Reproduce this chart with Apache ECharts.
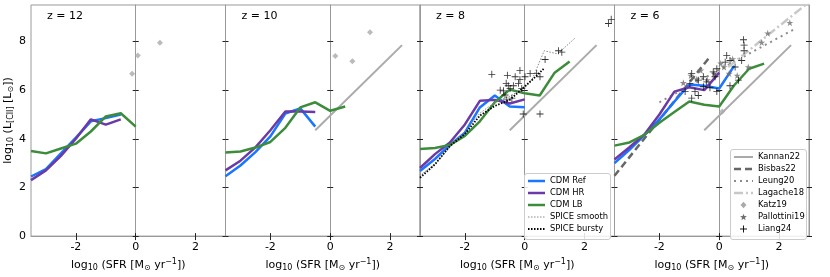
<!DOCTYPE html>
<html><head><meta charset="utf-8">
<script src="https://cdn.jsdelivr.net/npm/echarts@6/dist/echarts.min.js"></script>
<style>html,body{margin:0;padding:0;background:#fff}#c{width:830px;height:277px}</style>
</head><body><div id="c"></div>
<script>
// ---------- data ----------
const panelTitles = ['z = 12', 'z = 10', 'z = 8', 'z = 6'];
const xTicks = [-2, 0, 2];
const yTicks = [0, 2, 4, 6, 8];
const sfrBins = [-3.5, -3, -2.5, -2, -1.5, -1, -0.5, 0, 0.5, 1, 1.5];

const cdmRef = [
  [2.45, 2.75, 3.4, 4.05, 4.72, 4.85, 5.0],
  [2.46, 2.9, 3.45, 4.1, 5.04, 5.25, 4.5],
  [2.68, 3.17, 3.75, 4.25, 5.29, 5.78, 5.33, 5.3],
  [3.0, 3.55, 4.15, 4.8, 5.53, 6.23, 6.18, 6.07, 7.0]
];
const cdmHR = [
  [2.3, 2.7, 3.3, 4.0, 4.8, 4.58, 4.8],
  [2.7, 3.1, 3.65, 4.35, 5.12, 5.12, 5.1],
  [2.8, 3.37, 3.85, 4.59, 5.56, 5.6, 5.45, 5.62],
  [3.15, 3.65, 4.18, 5.0, 5.94, 6.12, 6.0, 6.72]
];
const cdmLB = [
  [3.5, 3.4, 3.6, 3.8, 4.3, 4.92, 5.05, 4.5],
  [3.44, 3.48, 3.64, 3.87, 4.45, 5.29, 5.5, 5.15, 5.33],
  [3.58, 3.62, 3.75, 4.12, 4.72, 5.5, 6.02, 5.87, 5.78, 6.72, 7.18],
  [3.72, 3.85, 4.16, 4.66, 5.1, 5.53, 5.4, 5.33, 6.2, 6.88, 7.09]
];
// SPICE (z = 8 only)
const spiceSmoothX = [-3.5, -3, -2.5, -2, -1.5, -1, -0.5, 0, 0.25, 0.65, 1.1, 1.7];
const spiceSmoothY = [2.5, 2.95, 3.65, 4.3, 5.05, 5.5, 5.75, 6.1, 6.45, 7.62, 7.49, 8.16];
const spiceBurstyX = [-3.5, -3, -2.5, -2, -1.5, -1, -0.5, 0, 0.3, 0.65];
const spiceBurstyY = [2.4, 2.95, 3.7, 4.2, 4.95, 5.35, 5.6, 6.15, 6.48, 6.9];
// literature relations
const kannanX = [-0.5, 2.4], kannanY = [4.35, 7.85];          // z = 10, 8, 6
const bisbasX = [-3.5, -0.35], bisbasY = [2.48, 7.31];        // z = 6
const leungX = [-2.0, 2.5], leungY = [5.5, 8.5];              // z = 6
const lagacheX = [0.3, 3.0], lagacheY = [6.95, 9.62];         // z = 6
// Katz19 points per panel
const katz = [
  [[-0.12, 6.67], [0.07, 7.42], [0.81, 7.95]],
  [[0.17, 7.4], [0.74, 7.19], [1.33, 8.38]],
  [],
  [[0.1, 5.12]]
];
// Liang24 points (z = 8, z = 6)
const liangZ8 = [[2.80, 8.74], [2.89, 8.91], [-1.10, 6.65], [-0.58, 6.61], [-0.16, 6.81], [-0.32, 6.55],
  [-0.16, 6.44], [0.01, 6.55], [0.18, 6.68], [0.40, 6.68], [0.51, 6.55], [-0.62, 6.28], [-0.55, 6.18],
  [-0.49, 6.07], [-0.71, 5.97], [-0.66, 5.8], [-0.38, 6.18], [-0.43, 5.67], [-0.6, 5.6], [-0.21, 6.28],
  [0.68, 7.26], [1.13, 7.62], [1.24, 7.56], [-0.05, 5.02], [0.51, 5.02], [-0.82, 6.0], [-0.1, 6.07]];
const liangZ6 = [[0.81, 8.07], [0.83, 7.85], [0.83, 7.62], [0.25, 7.42], [0.36, 7.22], [0.2, 7.15],
  [0.75, 7.22], [0.53, 6.95], [-0.08, 6.88], [-0.2, 6.75], [-0.14, 6.55], [-0.53, 6.55], [-0.42, 6.34],
  [-0.7, 6.41], [-0.92, 6.68], [-0.98, 6.28], [-1.14, 5.94], [-0.81, 5.94], [-0.92, 5.67], [-0.7, 5.78],
  [-0.08, 5.94], [0.36, 6.18], [0.64, 6.41], [-0.53, 6.14], [-0.31, 6.1]];
// Pallottini19 (z = 6)
const pallottiniZ6 = [[-0.95, 6.6], [-0.62, 6.81], [-0.17, 6.68], [0.16, 6.95], [0.33, 6.68], [-0.4, 6.41],
  [0.97, 6.95], [1.42, 7.96], [1.62, 8.34], [2.36, 8.77], [-0.75, 6.45], [0.05, 7.1], [0.45, 7.28],
  [-1.2, 6.3], [0.6, 6.6]];
const legend1Labels = ['CDM Ref', 'CDM HR', 'CDM LB', 'SPICE smooth', 'SPICE bursty'];
const legend2Labels = ['Kannan22', 'Bisbas22', 'Leung20', 'Lagache18', 'Katz19', 'Pallottini19', 'Liang24'];

// ---------- styling ----------
const FONT = 'DejaVu Sans';
const C_REF = '#1a75ff', C_HR = '#6b3aa6', C_LB = '#3c8c3c';
const PLUS = 'path://M-0.12,-1L0.12,-1L0.12,-0.12L1,-0.12L1,0.12L0.12,0.12L0.12,1L-0.12,1L-0.12,0.12L-1,0.12L-1,-0.12L-0.12,-0.12Z';
const STAR = 'path://M0,-1L0.2245,-0.309L0.951,-0.309L0.363,0.118L0.588,0.809L0,0.382L-0.588,0.809L-0.363,0.118L-0.951,-0.309L-0.2245,-0.309Z';
const STYLE = {
  'CDM Ref': {kind: 'line', color: C_REF, width: 2.5, dash: null},
  'CDM HR': {kind: 'line', color: C_HR, width: 2.5, dash: null},
  'CDM LB': {kind: 'line', color: C_LB, width: 2.5, dash: null},
  'SPICE smooth': {kind: 'line', color: '#888888', width: 1, dash: [1.5, 1.5]},
  'SPICE bursty': {kind: 'line', color: '#000000', width: 1.8, dash: [1.5, 1.5]},
  'Kannan22': {kind: 'line', color: '#aaaaaa', width: 2, dash: null},
  'Bisbas22': {kind: 'line', color: '#666666', width: 2.5, dash: [7, 4]},
  'Leung20': {kind: 'line', color: '#8c8c8c', width: 2, dash: [2, 4]},
  'Lagache18': {kind: 'line', color: '#c8c8c8', width: 2.5, dash: [9, 3, 2, 3]},
  'Katz19': {kind: 'diamond', color: '#aaaaaa'},
  'Pallottini19': {kind: 'star', color: '#6f6f6f'},
  'Liang24': {kind: 'plus', color: '#000000'}
};

const GL = 31, GW = 194.5, GT = 5, GH = 235;
const zip = (xs, ys) => ys.map((y, i) => [xs[i], y]);

const grids = [], xAxes = [], yAxes = [], series = [], graphics = [];
const xName = '{a|log}{s|10}{a| (SFR [M}{s|⊙}{a| yr}{p|−1}{a|])}';
const yName = '{a|log}{s|10}{a| (L}{s|[CII]}{a| [L}{s|⊙}{a|])}';
const richTxt = {
  a: {fontSize: 11, fontFamily: FONT, color: '#000'},
  s: {fontSize: 8, fontFamily: FONT, color: '#000', padding: [6, 0, 0, 0]},
  p: {fontSize: 8, fontFamily: FONT, color: '#000', padding: [0, 0, 6, 0]}
};

for (let g = 0; g < 4; g++) {
  grids.push({left: GL + g * GW, top: GT, width: GW, height: GH, show: true,
    borderColor: '#999', borderWidth: 1, backgroundColor: 'transparent'});
  const xb = {type: 'value', gridIndex: g, min: -3.5, max: 3, position: 'bottom', splitLine: {show: false}};
  xAxes.push(Object.assign({}, xb, {
    axisLine: {show: true, lineStyle: {color: '#999'}},
    axisTick: {show: true, length: 4, customValues: xTicks, lineStyle: {color: '#222'}},
    axisLabel: {show: true, customValues: xTicks, fontSize: 11, fontFamily: FONT, color: '#000', margin: 6},
    name: xName, nameLocation: 'middle', nameGap: 18, nameTextStyle: {rich: richTxt}
  }));
  xAxes.push(Object.assign({}, xb, {
    axisLine: {show: false},
    axisTick: {show: true, inside: true, length: 3, customValues: xTicks, lineStyle: {color: '#222'}},
    axisLabel: {show: false}
  }));
  const yb = {type: 'value', gridIndex: g, min: 0, max: 9.5, splitLine: {show: false}};
  for (const pos of ['left', 'right']) {
    yAxes.push(Object.assign({}, yb, {
      position: pos,
      axisLine: {show: true, lineStyle: {color: '#999'}},
      axisTick: {show: true, length: 3, customValues: yTicks, lineStyle: {color: '#222'}},
      axisLabel: {show: g === 0 && pos === 'left', customValues: yTicks, fontSize: 11, fontFamily: FONT, color: '#000', margin: 5},
      name: (g === 0 && pos === 'left') ? yName : '',
      nameLocation: 'middle', nameGap: 14, nameTextStyle: {rich: richTxt}
    }));
    yAxes.push(Object.assign({}, yb, {
      position: pos,
      axisLine: {show: false},
      axisTick: {show: true, inside: true, length: 3, customValues: yTicks, lineStyle: {color: '#222'}},
      axisLabel: {show: false}
    }));
  }
  const ax = {xAxisIndex: g * 2, yAxisIndex: g * 4};
  const line = (name, data, z) => {
    const s = STYLE[name];
    series.push(Object.assign({
      type: 'line', name, data, symbol: 'none', showSymbol: false, silent: true, animation: false,
      lineStyle: {color: s.color, width: s.width, type: s.dash || 'solid'}, itemStyle: {color: s.color},
      z: z || 2, clip: true
    }, ax));
  };
  const scat = (name, data, symbol, size, z) => series.push(Object.assign({
    type: 'scatter', name, data, symbol, symbolSize: size, itemStyle: {color: STYLE[name].color}, silent: true,
    animation: false, z: z || 5
  }, ax));

  if (g >= 1) line('Kannan22', zip(kannanX, kannanY), 1);
  if (g === 3) {
    line('Bisbas22', zip(bisbasX, bisbasY), 1);
    line('Leung20', zip(leungX, leungY), 1);
    line('Lagache18', zip(lagacheX, lagacheY), 1);
  }
  line('CDM Ref', zip(sfrBins, cdmRef[g]), 3);
  line('CDM HR', zip(sfrBins, cdmHR[g]), 3);
  line('CDM LB', zip(sfrBins, cdmLB[g]), 3);
  if (g === 2) {
    line('SPICE smooth', zip(spiceSmoothX, spiceSmoothY), 4);
    line('SPICE bursty', zip(spiceBurstyX, spiceBurstyY), 4);
  }
  if (katz[g].length) scat('Katz19', katz[g], 'diamond', 6, 5);
  if (g === 3) scat('Pallottini19', pallottiniZ6, STAR, 7, 5);
  if (g === 2) scat('Liang24', liangZ8, PLUS, 7, 6);
  if (g === 3) scat('Liang24', liangZ6, PLUS, 7, 6);

  graphics.push({type: 'text', x: GL + g * GW + 16, y: 16, z: 50,
    style: {text: panelTitles[g], fontSize: 11, fontFamily: FONT, fill: '#000', verticalAlign: 'middle'}});
}

// ---------- hand-drawn legends (matplotlib style) ----------
function addLegend(labels, bx, by, bw, step, iconW) {
  const bh = labels.length * step + 6;
  graphics.push({type: 'rect', z: 40, shape: {x: bx + 0.5, y: by + 0.5, width: bw, height: bh, r: 2.5},
    style: {fill: 'rgba(255,255,255,0.85)', stroke: '#cccccc', lineWidth: 1}});
  labels.forEach((lab, i) => {
    const s = STYLE[lab];
    const cy = by + 8 + i * step;
    const x0 = bx + 4, x1 = x0 + iconW, cx = (x0 + x1) / 2;
    if (s.kind === 'line') {
      graphics.push({type: 'line', z: 41, shape: {x1: x0, y1: cy, x2: x1, y2: cy},
        style: {stroke: s.color, lineWidth: s.width, lineDash: s.dash || null}});
    } else if (s.kind === 'diamond') {
      graphics.push({type: 'polygon', z: 41, shape: {points: [[cx, cy - 3.2], [cx + 3, cy], [cx, cy + 3.2], [cx - 3, cy]]},
        style: {fill: s.color}});
    } else if (s.kind === 'star') {
      const pts = [];
      for (let k = 0; k < 10; k++) {
        const r = k % 2 ? 1.5 : 3.6, a = -Math.PI / 2 + k * Math.PI / 5;
        pts.push([cx + r * Math.cos(a), cy + 0.3 + r * Math.sin(a)]);
      }
      graphics.push({type: 'polygon', z: 41, shape: {points: pts}, style: {fill: s.color}});
    } else if (s.kind === 'plus') {
      graphics.push({type: 'line', z: 41, shape: {x1: cx - 3.5, y1: cy, x2: cx + 3.5, y2: cy}, style: {stroke: s.color, lineWidth: 0.9}});
      graphics.push({type: 'line', z: 41, shape: {x1: cx, y1: cy - 3.5, x2: cx, y2: cy + 3.5}, style: {stroke: s.color, lineWidth: 0.9}});
    }
    graphics.push({type: 'text', z: 41, x: x1 + 5, y: cy,
      style: {text: lab, fontSize: 8.4, fontFamily: FONT, fill: '#000', verticalAlign: 'middle'}});
  });
}
addLegend(legend1Labels, 524, 173, 86, 12, 17);
addLegend(legend2Labels, 730, 149, 76, 12, 19);

const chart = echarts.init(document.getElementById('c'), null, {renderer: 'canvas'});
chart.setOption({
  animation: false,
  grid: grids, xAxis: xAxes, yAxis: yAxes, series,
  graphic: graphics
});
</script></body></html>
